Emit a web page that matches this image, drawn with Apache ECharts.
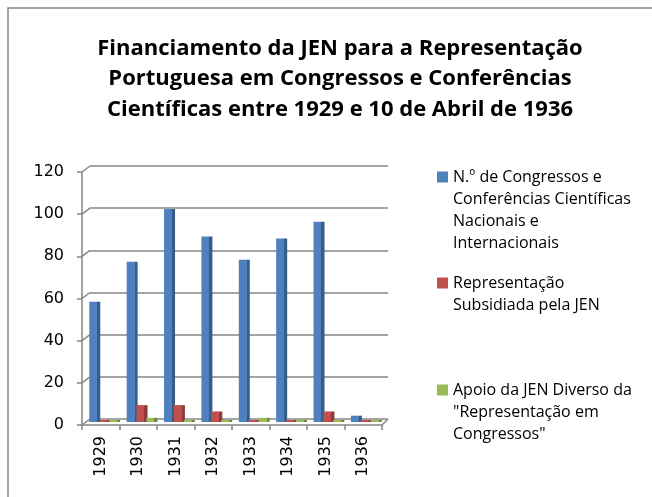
<!DOCTYPE html>
<html><head><meta charset="utf-8">
<script src="https://cdn.jsdelivr.net/npm/echarts@6/dist/echarts.min.js"></script>
<style>html,body{margin:0;padding:0;background:#fff}#c{width:652px;height:497px}</style>
</head><body><div id="c"></div>
<script>
const titleLines = ['Financiamento da JEN para a Representação', 'Portuguesa em Congressos e Conferências', 'Científicas entre 1929 e 10 de Abril de 1936'];
const years = ['1929', '1930', '1931', '1932', '1933', '1934', '1935', '1936'];
const congressos = [57, 76, 101, 88, 77, 87, 95, 3];
const representacao = [0, 8, 8, 5, 1, 0, 5, 1];
const apoio = [0, 2, 0, 0, 2, 1, 0, 0];
const seriesNames = [
  'N.º de Congressos e Conferências Científicas Nacionais e Internacionais',
  'Representação Subsidiada pela JEN',
  'Apoio da JEN Diverso da "Representação em Congressos"'
];
const legendLines = [
  ['N.º de Congressos e', 'Conferências Científicas', 'Nacionais e', 'Internacionais'],
  ['Representação', 'Subsidiada pela JEN'],
  ['Apoio da JEN Diverso da', '"Representação em', 'Congressos"']
];
const yMin = 0, yMax = 120, yStep = 20;
const yTicks = [0, 20, 40, 60, 80, 100, 120];

const mains = ['#4F81BD', '#C0504D', '#9BBB59'];
const darks = ['#385D8A', '#8E3B39', '#71893F'];
const grad = (i) => ({type: 'linear', x: 0, y: 0, x2: 1, y2: 0, colorStops: [
  {offset: 0, color: mains[i]}, {offset: 0.72, color: mains[i]},
  {offset: 0.72, color: darks[i]}, {offset: 1, color: darks[i]}]});

const chart = echarts.init(document.getElementById('c'), null, {renderer: 'canvas'});
const LH = 22;
const legendTops = [95, 245, 330];
const legends = seriesNames.map((n, i) => {
  const k = legendLines[i].length;
  const padded = new Array(k - 1).fill(' ').concat(legendLines[i]);
  return {
    orient: 'vertical', left: 432, top: legendTops[i],
    itemWidth: 11, itemHeight: 11, icon: 'rect', itemGap: 0,
    data: [{name: n, itemStyle: {color: mains[i]}}],
    formatter: () => padded.join('\n'),
    textStyle: {fontFamily: 'Open Sans', fontSize: 16, color: '#000', lineHeight: LH},
    selectedMode: false
  };
});

const gray = '#868686';
const DX = 8, DY = 6;
// depth connectors of the 3D wall and floor
const wallSeries = {
  type: 'custom', xAxisIndex: 0, yAxisIndex: 0, silent: true, z: 1,
  data: yTicks.map(v => [0, v]),
  renderItem: (params, api) => {
    const v = api.value(1);
    const band = api.size([1, 0])[0];
    const p = api.coord([0, v]);
    const x0 = p[0] - band / 2;
    const children = [{type: 'line', shape: {x1: x0, y1: p[1], x2: x0 + DX, y2: p[1] - DY}, style: {stroke: gray, lineWidth: 1.5}}];
    if (params.dataIndex === 0) {
      const q = api.coord([years.length - 1, v]);
      const x1 = q[0] + band / 2;
      children.push({type: 'line', shape: {x1: x1, y1: q[1], x2: x1 + DX - 2, y2: q[1] - DY}, style: {stroke: gray, lineWidth: 1.5}});
    }
    return {type: 'group', children};
  }
};

chart.setOption({
  backgroundColor: '#fff',
  animation: false,
  title: {
    text: titleLines.join('\n'), left: 335, top: 28, textAlign: 'center',
    textStyle: {fontFamily: 'Open Sans', fontWeight: 'bold', fontSize: 22, lineHeight: 30.5, color: '#000'}
  },
  legend: legends,
  graphic: [{type: 'rect', shape: {x: 8, y: 8, width: 700, height: 600}, style: {fill: 'none', stroke: gray, lineWidth: 1.5}, silent: true}],
  grid: [
    {left: 82, right: 270, top: 172, bottom: 72},
    {left: 90, right: 264, top: 166, bottom: 78},
    {left: 86, right: 267, top: 169, bottom: 75}
  ],
  xAxis: [
    {gridIndex: 0, type: 'category', data: years, boundaryGap: true,
     axisLine: {lineStyle: {color: gray, width: 1.5}}, axisTick: {show: true, length: 5, lineStyle: {color: gray, width: 1.5}},
     axisLabel: {rotate: 90, margin: 11, fontFamily: 'DejaVu Sans', fontSize: 16, color: '#000'}},
    {gridIndex: 1, type: 'category', data: years, show: false},
    {gridIndex: 2, type: 'category', data: years, show: false}
  ],
  yAxis: [
    {gridIndex: 0, type: 'value', min: yMin, max: yMax, interval: yStep,
     axisLine: {show: true, lineStyle: {color: gray, width: 1.5}}, axisTick: {show: true, length: 5, lineStyle: {color: gray, width: 1.5}},
     splitLine: {show: false},
     axisLabel: {margin: 18, fontFamily: 'DejaVu Sans', fontSize: 16, color: '#000'}},
    {gridIndex: 1, type: 'value', min: yMin, max: yMax, interval: yStep,
     axisLine: {show: false}, axisTick: {show: false}, axisLabel: {show: false},
     splitLine: {show: true, lineStyle: {color: gray, width: 1.5}}},
    {gridIndex: 2, type: 'value', min: yMin, max: yMax, interval: yStep, show: false, splitLine: {show: false}}
  ],
  series: [congressos, representacao, apoio].map((d, i) => ({
    name: seriesNames[i], type: 'bar', xAxisIndex: 2, yAxisIndex: 2, data: d, z: 3,
    barGap: '-10%', barWidth: 11, barMinHeight: 2,
    itemStyle: {color: grad(i)}
  })).concat([wallSeries])
});
</script></body></html>
